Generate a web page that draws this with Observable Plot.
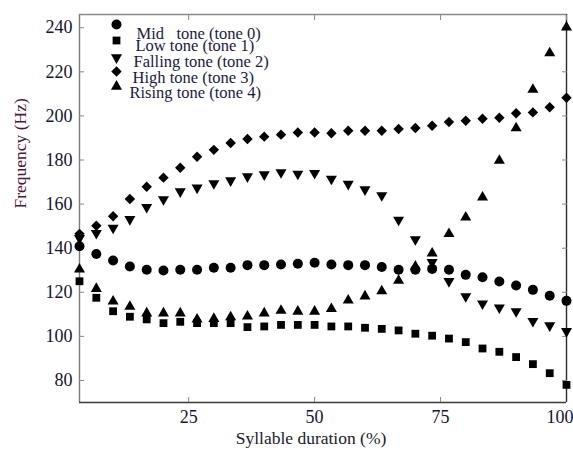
<!DOCTYPE html>
<html>
<head>
<meta charset="utf-8">
<script src="https://cdn.jsdelivr.net/npm/d3@7"></script>
<script src="https://cdn.jsdelivr.net/npm/@observablehq/plot@0.6"></script>
<style>
  html, body { margin: 0; padding: 0; background: #fff; }
  #chart { width: 573px; height: 457px; }
</style>
</head>
<body>
<div id="chart"></div>
<script>
// Syllable duration (%) sample points
const duration = [3.33, 6.67, 10, 13.33, 16.67, 20, 23.33, 26.67, 30, 33.33, 36.67, 40, 43.33, 46.67, 50,
  53.33, 56.67, 60, 63.33, 66.67, 70, 73.33, 76.67, 80, 83.33, 86.67, 90, 93.33, 96.67, 100];

const midTone = [140.9, 137.4, 134.4, 131.7, 130.2, 129.9, 130.2, 130.2, 131.1, 131.1, 132.3, 132.3, 132.6, 132.9, 133.4,
  132.6, 132.3, 132.3, 131.5, 130.2, 130.2, 130.6, 130.2, 127.9, 126.8, 124.9, 123.1, 121.1, 118.4, 116.1];
const lowTone = [125.0, 117.5, 111.4, 108.9, 107.7, 106.0, 106.6, 106.0, 106.0, 106.0, 104.2, 104.5, 105.2, 105.2, 105.2,
  104.5, 104.5, 103.9, 103.4, 102.7, 101.2, 100.3, 99.0, 97.4, 94.5, 93.0, 90.6, 87.4, 83.3, 78.0];
const fallingTone = [144.5, 146.8, 149.2, 153.1, 158.6, 162.1, 165.7, 167.4, 169.4, 170.7, 172.5, 173.4, 174.4, 173.7, 174.0,
  171.4, 169.1, 166.6, 163.9, 152.8, 144.0, 133.6, 125.0, 118.1, 114.8, 113.0, 111.3, 106.9, 104.9, 102.3];
const highTone = [146.5, 150.2, 154.5, 162.3, 167.9, 172.0, 176.5, 181.5, 184.6, 187.7, 189.5, 190.6, 191.5, 192.5, 192.5,
  192.1, 193.3, 193.3, 193.3, 194.1, 194.5, 195.5, 197.2, 197.8, 198.7, 199.2, 201.2, 201.6, 203.9, 208.2];
const risingTone = [130.4, 121.6, 115.9, 113.5, 110.5, 110.5, 110.5, 107.7, 108.0, 108.7, 109.1, 110.5, 111.7, 111.3, 111.3,
  112.5, 116.3, 118.2, 120.5, 125.3, 131.7, 137.7, 146.5, 154.0, 163.1, 179.7, 194.5, 211.9, 228.5, 240.2];

const seriesNames = ["Mid   tone (tone 0)", "Low tone (tone 1)", "Falling tone (tone 2)", "High tone (tone 3)", "Rising tone (tone 4)"];
const xTicks = [25, 50, 75, 100];
const yTicks = [80, 100, 120, 140, 160, 180, 200, 220, 240];
const xLabel = "Syllable duration (%)";
const yLabel = "Frequency (Hz)";

const xDomain = [3.33, 100];
const yDomain = [70, 246];

const serif = "Liberation Serif, DejaVu Serif, serif";

// marker styles: symbol, rotation, radius
const styles = [
  {symbol: "circle", rotate: 0, r: 5},
  {symbol: "square", rotate: 0, r: 4.4},
  {symbol: "triangle", rotate: 180, r: 4.1},
  {symbol: "diamond2", rotate: 0, r: 4.7},
  {symbol: "triangle", rotate: 0, r: 4.1}
];
const values = [midTone, lowTone, fallingTone, highTone, risingTone];

const table = [];
values.forEach((vals, s) => vals.forEach((v, i) => table.push({s, x: duration[i], y: v})));

const legendDy = [10, 26, 43, 57, 72];
const legendTextDy = [12.5, 25, 40.5, 56.5, 71.5];
const legendTextDx = [57, 56, 54, 53, 50];

const marks = [];
// frame sides
marks.push(Plot.ruleX([xDomain[0]], {stroke: "#7a7a7a", strokeWidth: 1.4}));
marks.push(Plot.ruleY([yDomain[0]], {stroke: "#3a3a3a", strokeWidth: 1.4}));
marks.push(Plot.ruleX([xDomain[1]], {stroke: "#2a2a2a", strokeWidth: 1.4}));
marks.push(Plot.ruleY([yDomain[1]], {stroke: "#8a8a8a", strokeWidth: 1.4}));
// axes with inward ticks
marks.push(Plot.axisX(xTicks.slice(0, 3), {anchor: "bottom", tickSize: -5, tickPadding: 13, label: null, stroke: "#888", fill: "#14142e", fontFamily: serif, fontSize: 18, fontVariant: "normal"}));
marks.push(Plot.axisX(xTicks.slice(3), {anchor: "bottom", tickSize: -5, tickPadding: 13, label: null, stroke: "#888", fill: "#14142e", fontFamily: serif, fontSize: 18, fontVariant: "normal", textAnchor: "end", dx: 7}));
marks.push(Plot.axisX(xTicks, {anchor: "top", tickSize: -5, tickFormat: () => "", label: null, stroke: "#888"}));
marks.push(Plot.axisY(yTicks, {anchor: "left", tickSize: -5, tickPadding: 12, label: null, stroke: "#888", fill: "#14142e", fontFamily: serif, fontSize: 18, fontVariant: "normal"}));
marks.push(Plot.axisY(yTicks, {anchor: "right", tickSize: -5, tickFormat: () => "", label: null, stroke: "#888"}));

// data
styles.forEach((st, s) => {
  marks.push(Plot.dot(table.filter(d => d.s === s), {
    x: "x", y: "y", symbol: () => st.symbol, r: st.r, rotate: st.rotate, fill: "black", stroke: "none"
  }));
});

// legend
styles.forEach((st, s) => {
  marks.push(Plot.dot([seriesNames[s]], {
    frameAnchor: "top-left", dx: 37, dy: legendDy[s], symbol: () => st.symbol, r: st.r, rotate: st.rotate, fill: "black", stroke: "none"
  }));
  marks.push(Plot.text([seriesNames[s]], {
    text: d => d, frameAnchor: "top-left", dx: legendTextDx[s], dy: legendTextDy[s], textAnchor: "start", fill: "#1a1a40", fontSize: 16.5, fontFamily: serif
  }));
});

// axis titles
marks.push(Plot.text([yLabel], {text: d => d, frameAnchor: "left", rotate: -90, dx: -59, fill: "#4a1838", fontSize: 17.5, fontFamily: serif}));
marks.push(Plot.text([xLabel], {text: d => d, frameAnchor: "bottom", dx: -12, dy: 41, fill: "#1a1a2a", fontSize: 17.5, fontFamily: serif}));

const chart = Plot.plot({
  width: 573,
  height: 457,
  marginLeft: 79,
  marginRight: 7,
  marginTop: 14,
  marginBottom: 55,
  x: {domain: xDomain},
  y: {domain: yDomain},
  symbol: {type: "identity"},
  style: {fontFamily: serif, fontSize: "17px", background: "white", color: "#14142e"},
  marks
});
document.getElementById("chart").appendChild(chart);
</script>
</body>
</html>
